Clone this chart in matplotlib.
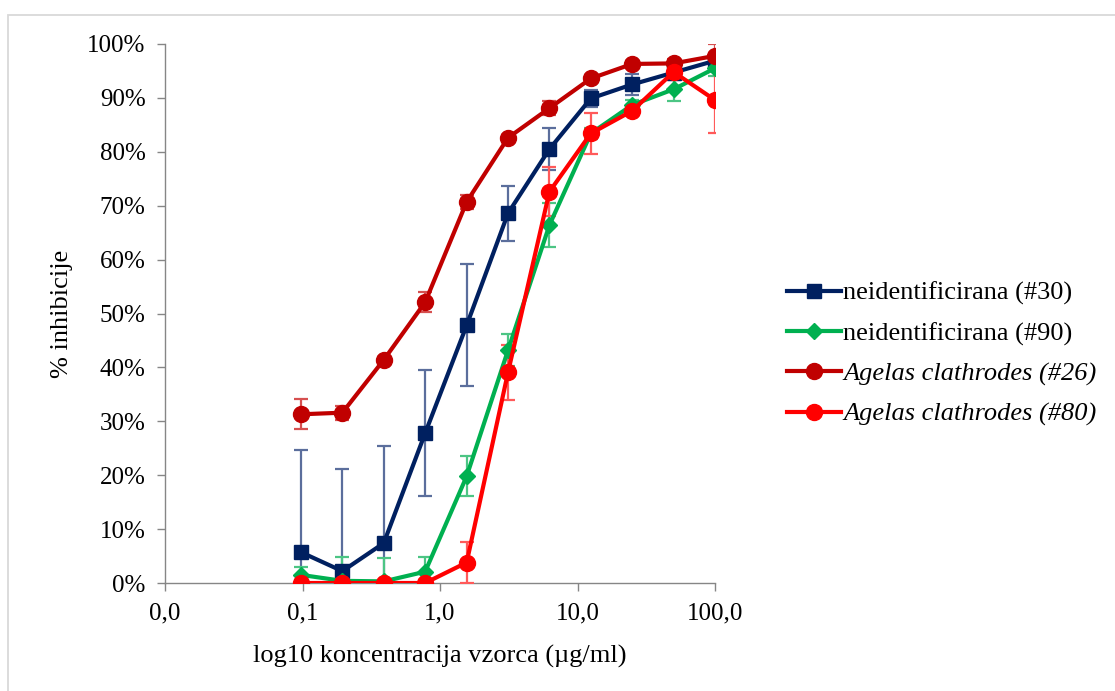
import matplotlib
matplotlib.use("Agg")
import matplotlib.pyplot as plt
from matplotlib.patches import Rectangle
from matplotlib.ticker import FixedLocator, FixedFormatter

conc = [0.0977, 0.195, 0.39, 0.78, 1.5625, 3.125, 6.25, 12.5, 25, 50, 100]

names = ["neidentificirana (#30)", "neidentificirana (#90)",
         "Agelas clathrodes (#26)", "Agelas clathrodes (#80)"]

s30 = [5.7, 2.2, 7.4, 27.8, 47.8, 68.6, 80.5, 89.9, 92.5, 94.7, 96.9]
e30 = [19.0, 18.9, 18.0, 11.7, 11.3, 5.1, 3.9, 1.5, 1.9, 1.0, 0.8]

s90 = [1.5, 0.4, 0.3, 2.1, 19.8, 43.2, 66.4, 83.4, 88.7, 91.6, 95.5]
e90 = [1.5, 4.4, 4.3, 2.8, 3.7, 3.0, 4.1, 1.0, 1.0, 2.2, 1.5]

s26 = [31.3, 31.6, 41.4, 52.1, 70.7, 82.6, 88.1, 93.6, 96.3, 96.4, 97.8]
e26 = [2.8, 1.3, 0.5, 1.8, 1.3, 0.5, 1.3, 0.5, 0.5, 0.8, 2.2]

s80 = [0.0, 0.0, 0.0, 0.0, 3.8, 39.1, 72.6, 83.4, 87.6, 94.8, 89.6]
e80 = [0.0, 0.0, 0.0, 0.0, 3.8, 5.1, 4.6, 3.8, 1.0, 1.5, 6.2]

xticks = [0.01, 0.1, 1, 10, 100]
xtick_labels = ["0,0", "0,1", "1,0", "10,0", "100,0"]
yticks = [0, 10, 20, 30, 40, 50, 60, 70, 80, 90, 100]
ytick_labels = [f"{v}%" for v in yticks]

colors = ["#002060", "#00B050", "#C00000", "#FF0000"]
err_colors = ["#5B6E9C", "#4CC584", "#D65050", "#FF5A5A"]
markers = ["s", "D", "o", "o"]
msizes = [10, 8, 11.5, 11.5]

FONT = ["Liberation Serif", "DejaVu Serif"]
plt.rcParams["font.family"] = FONT

fig = plt.figure(figsize=(11.15, 6.91), dpi=100)
W, H = 1115, 691
ax = fig.add_axes([165 / W, 1 - 583 / H, (715 - 165) / W, (583 - 44) / H])

# figure border (Excel chart area)
fig.patches.append(Rectangle((8 / W, -0.05), 1.2, 1 - 15 / H + 0.05,
                             transform=fig.transFigure, fill=False,
                             edgecolor="#D9D9D9", linewidth=1.3, zorder=0))

series = [s30, s90, s26, s80]
errs = [e30, e90, e26, e80]
handles = []
for i in range(4):
    ax.errorbar(conc, series[i], yerr=errs[i], fmt="none", ecolor=err_colors[i],
                elinewidth=1.6, capsize=5, capthick=1.6, zorder=2 + i)
for i in range(4):
    h, = ax.plot(conc, series[i], color=colors[i], linewidth=3.0,
                 marker=markers[i], markersize=msizes[i], zorder=6 + i,
                 label=names[i])
    handles.append(h)

ax.set_xscale("log")
ax.set_xlim(0.01, 100)
ax.set_ylim(0, 100)
ax.xaxis.set_major_locator(FixedLocator(xticks))
ax.xaxis.set_major_formatter(FixedFormatter(xtick_labels))
ax.xaxis.set_minor_locator(FixedLocator([]))
ax.yaxis.set_major_locator(FixedLocator(yticks))
ax.yaxis.set_major_formatter(FixedFormatter(ytick_labels))

for sp in ["top", "right"]:
    ax.spines[sp].set_visible(False)
for sp in ["left", "bottom"]:
    ax.spines[sp].set_color("#868686")
    ax.spines[sp].set_linewidth(1.0)
ax.tick_params(axis="both", direction="out", length=6, width=1.0,
               color="#868686", labelsize=18, labelcolor="black")
ax.tick_params(axis="x", pad=8)
ax.tick_params(axis="y", pad=8)

ax.set_xlabel("log10 koncentracija vzorca (µg/ml)", fontsize=19, labelpad=15)
ax.set_ylabel("% inhibicije", fontsize=19, labelpad=10)

leg = fig.legend(handles=handles, loc="upper left",
                 bbox_to_anchor=(776 / W, 1 - 271 / H), frameon=False,
                 fontsize=19, handlelength=2.05, handletextpad=0.1,
                 labelspacing=0.62, borderaxespad=0)
for i, t in enumerate(leg.get_texts()):
    if i >= 2:
        t.set_fontstyle("italic")

fig.savefig("out.png", dpi=100)
